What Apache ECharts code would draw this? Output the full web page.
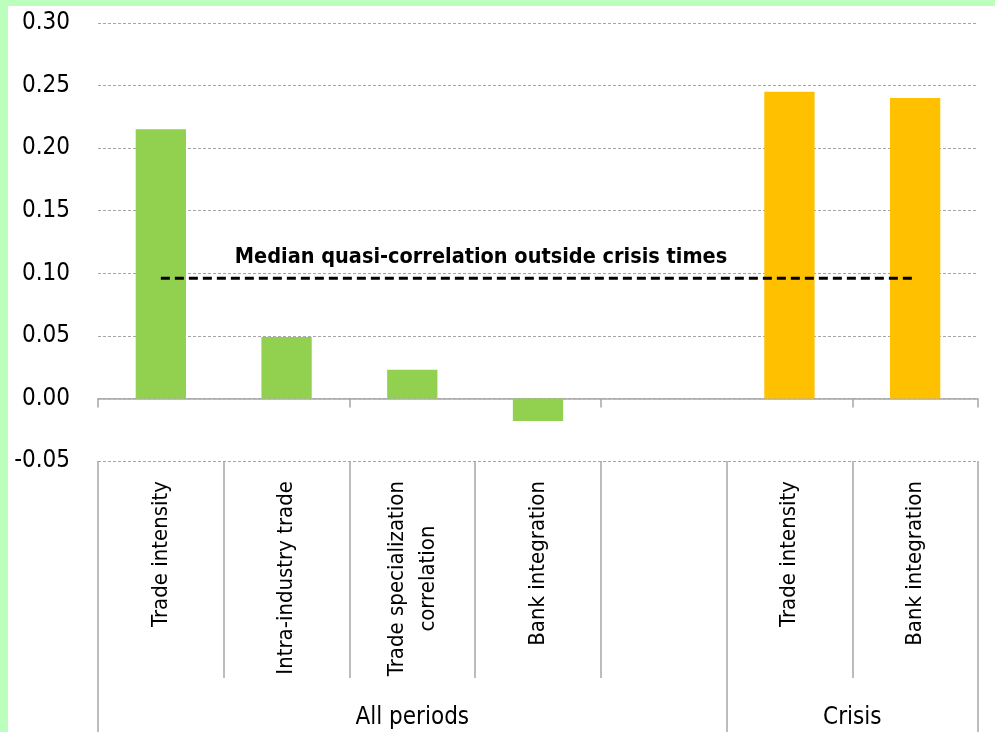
<!DOCTYPE html>
<html>
<head>
<meta charset="utf-8">
<script src="https://cdn.jsdelivr.net/npm/echarts@6/dist/echarts.min.js"></script>
<style>
  html, body { margin: 0; padding: 0; background: #bcffbc; }
  #chart { position: absolute; left: 8px; top: 6px; width: 987px; height: 726px; background: #fff; }
</style>
</head>
<body>
<div id="chart"></div>
<script>
  // categories along the bottom
  var categories = ['Trade intensity', 'Intra-industry trade', 'Trade specialization\ncorrelation', 'Bank integration', '', 'Trade intensity', 'Bank integration']
  // group labels on a half-band grid (15 points from left edge to right edge)
  var groupSlots = ['', '', '', '', '', 'All periods', '', '', '', '', '', '', 'Crisis', '', '']
  var groupEdges = [0, 10, 14]
  var values = [0.215, 0.049, 0.023, -0.018, null, 0.245, 0.240]
  var barColors = ['#92d050', '#92d050', '#92d050', '#92d050', '#92d050', '#ffc000', '#ffc000']
  var medianLine = [0.096, 0.096, 0.096, 0.096, 0.096, 0.096, 0.096]
  var medianText = 'Median quasi-correlation outside crisis times'

  var font = "'Liberation Sans Narrow', 'DejaVu Sans Condensed', sans-serif"
  var gridColor = '#a6a6a6'

  var chart = echarts.init(document.getElementById('chart'))
  chart.setOption({
    animation: false,
    title: {
      text: medianText,
      left: 468,
      top: 235,
      textAlign: 'center',
      textStyle: {fontFamily: font, fontSize: 21.5, fontWeight: 'bold', color: '#000'}
    },
    grid: {left: 90, right: 17, top: 17, bottom: 271},
    xAxis: [{
      type: 'category',
      data: categories,
      axisLine: {onZero: true, lineStyle: {color: gridColor, width: 1.5}},
      axisTick: {show: true, length: 9, lineStyle: {color: gridColor, width: 1.5}},
      axisLabel: {show: false}
    }, {
      // label box under the plot
      type: 'category',
      data: categories,
      position: 'bottom',
      axisLine: {show: false, onZero: false},
      axisTick: {show: true, interval: 0, length: 217, lineStyle: {color: gridColor, width: 1.5}},
      axisLabel: {
        interval: 0,
        rotate: 90,
        margin: 20,
        color: '#000',
        formatter: function (v) {
          return v ? v.split('\n').map(function (s) { return '{c|' + s + '}' }).join('\n') : ''
        },
        rich: {
          c: {fontFamily: font, fontSize: 22, lineHeight: 31, align: 'center', color: '#000'}
        }
      }
    }, {
      // group row
      type: 'category',
      data: groupSlots,
      boundaryGap: false,
      position: 'bottom',
      axisLine: {show: false, onZero: false},
      axisTick: {
        show: true,
        length: 271,
        interval: function (index) { return groupEdges.indexOf(index) >= 0 },
        lineStyle: {color: gridColor, width: 1.5}
      },
      axisLabel: {
        interval: 0,
        margin: 245,
        fontFamily: font,
        fontSize: 24,
        color: '#000'
      }
    }],
    yAxis: {
      type: 'value',
      min: -0.05,
      max: 0.30,
      interval: 0.05,
      axisLine: {show: false},
      axisTick: {show: false},
      axisLabel: {
        margin: 28,
        fontFamily: font,
        fontSize: 24,
        color: '#000',
        formatter: function (v) { return v.toFixed(2) }
      },
      splitLine: {lineStyle: {color: gridColor, type: [3, 2], width: 1}}
    },
    series: [{
      type: 'bar',
      xAxisIndex: 0,
      barWidth: '40%',
      data: values.map(function (v, i) {
        return {value: v, itemStyle: {color: barColors[i]}}
      })
    }, {
      type: 'line',
      xAxisIndex: 0,
      data: medianLine,
      symbol: 'none',
      z: 5,
      lineStyle: {color: '#000', width: 3, type: [9, 5]}
    }]
  })
</script>
</body>
</html>
